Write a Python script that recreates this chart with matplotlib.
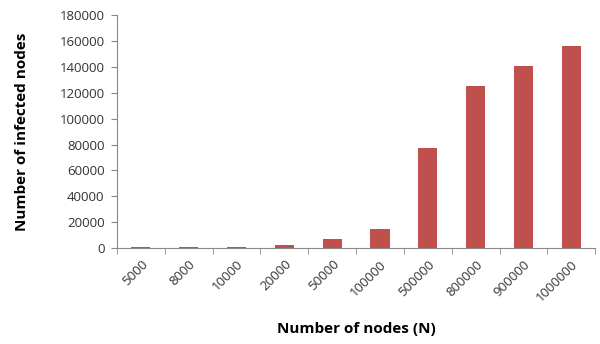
import matplotlib.pyplot as plt
import numpy as np

nodes = ['5000', '8000', '10000', '20000', '50000', '100000',
         '500000', '800000', '900000', '1000000']
infected = [700, 700, 700, 2300, 7000, 15000, 77500, 125000, 140500, 156000]
yticks = np.arange(0, 180001, 20000)

plt.rcParams['font.family'] = ['Open Sans', 'DejaVu Sans']

fig = plt.figure(figsize=(6, 3.44), dpi=100)
ax = fig.add_axes([0.195, 0.279, 0.797, 0.677])

x = np.arange(len(nodes))
ax.bar(x, infected, width=0.4, color='#C0504D')

ax.set_xlim(-0.5, len(nodes) - 0.5)
ax.set_ylim(0, 180000)
ax.set_yticks(yticks)
ax.set_yticklabels([str(v) for v in yticks], fontsize=9.5, color='#333333')
ax.set_xticks(x)
ax.set_xticklabels(nodes, rotation=45, ha='right', rotation_mode='anchor',
                   fontsize=9.5, color='#333333')
ax.tick_params(axis='x', length=0, pad=7)
ax.set_xticks(np.arange(-0.5, len(nodes)), minor=True)
ax.tick_params(axis='x', which='minor', length=4, color='#888888')
ax.tick_params(axis='y', length=4, color='#888888', pad=5)

for side in ['top', 'right']:
    ax.spines[side].set_visible(False)
for side in ['left', 'bottom']:
    ax.spines[side].set_color('#888888')

ax.set_ylabel('Number of infected nodes', fontsize=11, fontweight='bold', labelpad=22)
ax.set_xlabel('Number of nodes (N)', fontsize=11, fontweight='bold', labelpad=13)

fig.savefig('out.png', dpi=100)
